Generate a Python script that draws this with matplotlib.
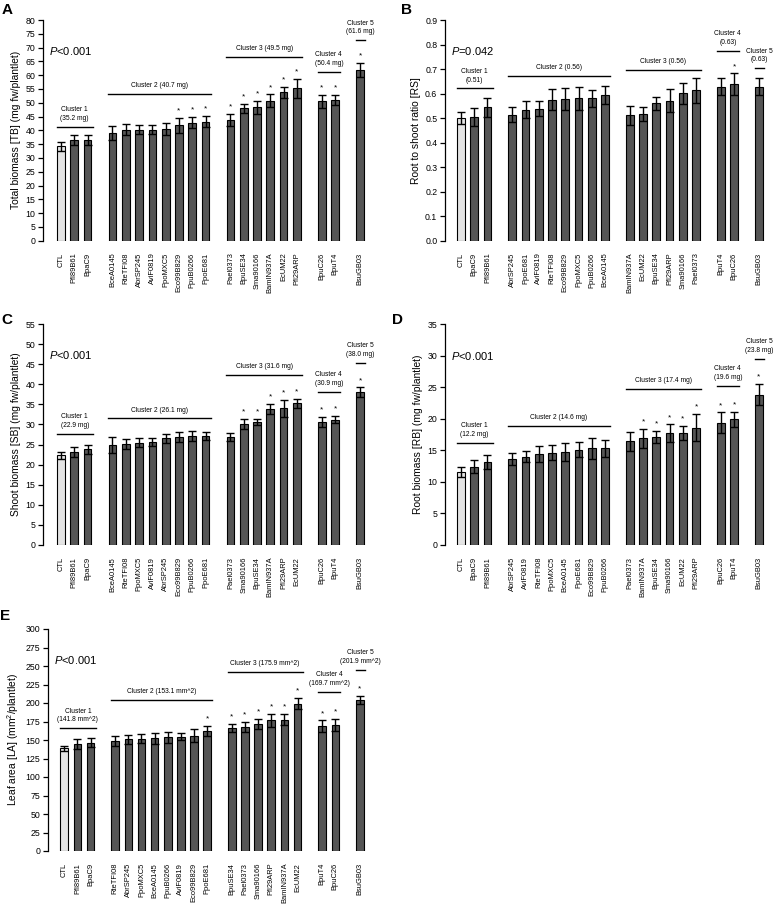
import matplotlib
matplotlib.use("Agg")
import matplotlib.pyplot as plt
import numpy as np

plt.rcParams['font.family'] = ['Liberation Sans', 'DejaVu Sans']
plt.rcParams['mathtext.fontset'] = 'custom'
plt.rcParams['mathtext.rm'] = 'Liberation Sans'
plt.rcParams['mathtext.it'] = 'Liberation Sans:italic'

# bars per cluster (same grouping in every panel)
cluster_sizes = [3, 8, 6, 2, 1]

# A: total biomass
a_names = ['CTL', 'Pfl89B61', 'BpaC9',
           'BceA0145', 'RteTFI08', 'AbrSP245', 'AviF0819', 'PpoMXC5', 'Eco99B829', 'PpuB0266', 'PpoE681',
           'Pael0373', 'BpuSE34', 'Sma90166', 'BamIN937A', 'EcUM22', 'Pfl29ARP',
           'BpuC26', 'BpuT4', 'BsuGB03']
a_means = [34.2, 36.4, 36.4,
           39.0, 40.2, 40.2, 40.2, 40.5, 41.8, 42.8, 43.2,
           43.9, 48.0, 48.4, 50.8, 53.8, 55.2,
           50.5, 50.9, 61.8]
a_errs = [1.6, 1.8, 1.8,
          2.5, 2.0, 1.7, 1.7, 2.3, 2.6, 2.1, 1.9,
          2.2, 1.7, 2.4, 2.2, 2.0, 3.5,
          2.3, 1.8, 2.5]
a_sig = [0, 0, 0, 0, 0, 0, 0, 0, 1, 1, 1, 1, 1, 1, 1, 1, 1, 1, 1, 1]
a_cluster_means = ['35.2 mg', '40.7 mg', '49.5 mg', '50.4 mg', '61.6 mg']

# B: root to shoot ratio
b_names = ['CTL', 'BpaC9', 'Pfl89B61',
           'AbrSP245', 'PpoE681', 'AviF0819', 'RteTFI08', 'Eco99B829', 'PpoMXC5', 'PpuB0266', 'BceA0145',
           'BamIN937A', 'EcUM22', 'BpuSE34', 'Pfl29ARP', 'Sma90166', 'Pael0373',
           'BpuT4', 'BpuC26', 'BsuGB03']
b_means = [0.500, 0.505, 0.544,
           0.514, 0.535, 0.538, 0.575, 0.579, 0.580, 0.580, 0.594,
           0.511, 0.516, 0.560, 0.571, 0.601, 0.614,
           0.628, 0.639, 0.628]
b_errs = [0.023, 0.038, 0.038,
          0.030, 0.035, 0.031, 0.042, 0.045, 0.048, 0.036, 0.035,
          0.038, 0.029, 0.028, 0.047, 0.042, 0.051,
          0.035, 0.043, 0.035]
b_sig = [0] * 18 + [1, 0]
b_cluster_means = ['0.51', '0.56', '0.56', '0.63', '0.63']

# C: shoot biomass
c_names = ['CTL', 'Pfl89B61', 'BpaC9',
           'BceA0145', 'RteTFI08', 'PpoMXC5', 'AviF0819', 'AbrSP245', 'Eco99B829', 'PpuB0266', 'PpoE681',
           'Pael0373', 'Sma90166', 'BpuSE34', 'BamIN937A', 'Pfl29ARP', 'EcUM22',
           'BpuC26', 'BpuT4', 'BsuGB03']
c_means = [22.3, 23.1, 23.8,
           24.9, 25.1, 25.5, 25.6, 26.6, 26.9, 27.1, 27.1,
           26.8, 30.1, 30.6, 33.9, 34.0, 35.3,
           30.6, 31.2, 38.0]
c_errs = [0.9, 1.3, 1.1,
          2.0, 1.3, 1.2, 1.0, 1.1, 1.3, 1.3, 1.0,
          1.0, 1.3, 0.8, 1.2, 2.1, 1.1,
          1.3, 0.9, 1.2]
c_sig = [0] * 12 + [1] * 8
c_cluster_means = ['22.9 mg', '26.1 mg', '31.6 mg', '30.9 mg', '38.0 mg']

# D: root biomass
d_names = ['CTL', 'BpaC9', 'Pfl89B61',
           'AbrSP245', 'AviF0819', 'RteTFI08', 'PpoMXC5', 'BceA0145', 'PpoE681', 'Eco99B829', 'PpuB0266',
           'Pael0373', 'BamIN937A', 'BpuSE34', 'Sma90166', 'EcUM22', 'Pfl29ARP',
           'BpuC26', 'BpuT4', 'BsuGB03']
d_means = [11.6, 12.4, 13.1,
           13.6, 14.0, 14.4, 14.6, 14.7, 15.1, 15.3, 15.3,
           16.4, 16.9, 17.1, 17.7, 17.8, 18.6,
           19.4, 19.9, 23.8]
d_errs = [0.8, 1.0, 1.1,
          0.9, 0.9, 1.3, 1.2, 1.4, 1.2, 1.7, 1.3,
          1.5, 1.5, 0.9, 1.4, 1.1, 2.1,
          1.6, 1.2, 1.7]
d_sig = [0] * 12 + [1] * 8
d_cluster_means = ['12.2 mg', '14.6 mg', '17.4 mg', '19.6 mg', '23.8 mg']

# E: leaf area
e_names = ['CTL', 'Pfl89B61', 'BpaC9',
           'RteTFI08', 'AbrSP245', 'PpoMXC5', 'BceA0145', 'PpuB0266', 'AviF0819', 'Eco99B829', 'PpoE681',
           'BpuSE34', 'Pael0373', 'Sma90166', 'Pfl29ARP', 'BamIN937A', 'EcUM22',
           'BpuT4', 'BpuC26', 'BsuGB03']
e_means = [138.6, 144.5, 146.4,
           148.2, 150.9, 151.8, 152.3, 153.6, 154.5, 155.9, 162.3,
           166.4, 167.7, 171.4, 176.4, 177.7, 199.1,
           168.6, 170.5, 203.6]
e_errs = [3.7, 6.4, 6.3,
          6.8, 6.4, 6.4, 7.7, 7.8, 5.0, 9.1, 6.3,
          5.4, 7.3, 6.8, 8.6, 7.3, 7.7,
          7.8, 8.1, 5.5]
e_sig = [0] * 10 + [1] * 10
e_cluster_means = ['141.8 mm^2', '153.1 mm^2', '175.9 mm^2', '169.7 mm^2', '201.9 mm^2']

W, H = 778, 907
fig = plt.figure(figsize=(W / 100, H / 100), dpi=100)

pos = []
for ci, n in enumerate(cluster_sizes):
    for k in range(n):
        pos.append(len(pos) + 0.875 * ci)
pos = np.array(pos)
cl_idx = np.repeat(np.arange(5), cluster_sizes)


def panel(box, names, means, errs, sig, cl_means, cl_y, ymax, ystep, fmt,
          ylabel, ptext, py, letter, letter_xy):
    # box: axis x px, first bar px, right px, top px, bottom px, bar pitch px
    x0, c0, x1, ytop, ybot, pitch = box
    ax = fig.add_axes([x0 / W, 1 - ybot / H, (x1 - x0) / W, (ybot - ytop) / H])
    colors = ['#e4e4e4'] + ['#555555'] * (len(means) - 1)
    ax.bar(pos, means, width=0.58, color=colors, edgecolor='black', linewidth=0.8, zorder=2)
    ax.errorbar(pos, means, yerr=errs, fmt='none', ecolor='black', elinewidth=1.0,
                capsize=2.6, capthick=1.0, zorder=3)
    for x, m, e, s in zip(pos, means, errs, sig):
        if s:
            ax.annotate('*', (x, m + e), xytext=(0, 2.5), textcoords='offset points',
                        ha='center', va='bottom', fontsize=6)
    for ci in range(5):
        xs = pos[cl_idx == ci]
        ax.plot([xs[0] - 0.32, xs[-1] + 0.38], [cl_y[ci], cl_y[ci]], color='black',
                lw=1.0, clip_on=False)
        if ci in (1, 2):
            label = f'Cluster {ci + 1} ({cl_means[ci]})'
        else:
            label = f'Cluster {ci + 1}\n({cl_means[ci]})'
        ax.annotate(label, ((xs[0] + xs[-1]) / 2 + 0.03, cl_y[ci]), xytext=(0, 3.5),
                    textcoords='offset points', ha='center', va='bottom',
                    fontsize=4.8, linespacing=1.35)
    ax.set_xlim(-(c0 - x0) / pitch, (x1 - c0) / pitch)
    ax.set_ylim(0, ymax)
    ticks = np.arange(0, ymax + ystep / 2, ystep)
    ax.set_yticks(ticks)
    ax.set_yticklabels([fmt.format(t) for t in ticks])
    ax.set_xticks(pos)
    ax.set_xticklabels(names, rotation=90, fontsize=5.4)
    ax.tick_params(axis='x', length=0, pad=8.5)
    ax.tick_params(axis='y', direction='out', length=3.5, width=0.9, labelsize=6.3, pad=2)
    for side in ['top', 'right', 'bottom']:
        ax.spines[side].set_visible(False)
    ax.spines['left'].set_bounds(0, ymax)
    ax.spines['left'].set_linewidth(0.9)
    ax.set_ylabel(ylabel, fontsize=7.4, labelpad=3)
    ax.text(0.018, py, ptext, transform=ax.get_yaxis_transform(), fontsize=8,
            ha='left', va='center')
    fig.text(letter_xy[0] / W, 1 - letter_xy[1] / H, letter, fontsize=11,
             fontweight='bold', ha='left', va='top')
    ax.patch.set_visible(False)
    return ax


panel((43, 61, 380, 20, 240.7, 13.29), a_names, a_means, a_errs, a_sig, a_cluster_means,
      [41.2, 53.1, 66.7, 61.2, 72.7], 80, 5, '{:.0f}',
      'Total biomass [TB] (mg fw/plantlet)', '$P$<0.001', 68.8, 'A', (2, 3))
panel((445, 461, 778, 20, 240.7, 13.24), b_names, b_means, b_errs, b_sig, b_cluster_means,
      [0.621, 0.671, 0.696, 0.775, 0.703], 0.9, 0.1, '{:.1f}',
      'Root to shoot ratio [RS]', '$P$=0.042', 0.775, 'B', (401, 3))
panel((43, 61, 380, 324, 545, 13.29), c_names, c_means, c_errs, c_sig, c_cluster_means,
      [27.6, 31.5, 42.3, 38.2, 45.4], 55, 5, '{:.0f}',
      'Shoot biomass [SB] (mg fw/plantlet)', '$P$<0.001', 47.2, 'C', (1, 313))
panel((445, 461, 778, 324, 545, 13.24), d_names, d_means, d_errs, d_sig, d_cluster_means,
      [16.2, 18.9, 24.7, 25.2, 29.5], 35, 5, '{:.0f}',
      'Root biomass [RB] (mg fw/plantlet)', '$P$<0.001', 30.0, 'D', (392, 313))
panel((48, 64.3, 380, 629, 851, 13.14), e_names, e_means, e_errs, e_sig, e_cluster_means,
      [165.9, 204.5, 242.3, 215.0, 245.0], 300, 25, '{:.0f}',
      'Leaf area [LA] (mm$^2$/plantlet)', '$P$<0.001', 258, 'E', (0, 609))

fig.savefig('out.png', dpi=100)
